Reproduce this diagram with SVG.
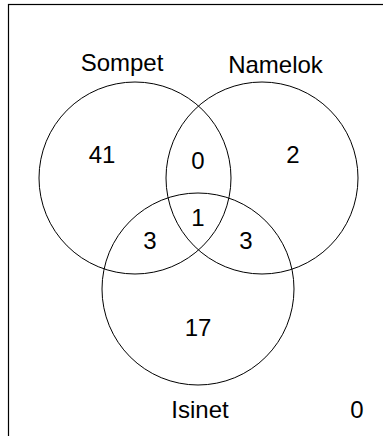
<svg xmlns="http://www.w3.org/2000/svg" width="383" height="436" viewBox="0 0 383 436">
  <style>
    .set { fill: none; stroke: #000; stroke-width: 1; }
    .lbl { font-family: "Liberation Sans", Arial, sans-serif; font-size: 24px; fill: #000; text-anchor: middle; }
  </style>
  <rect width="383" height="436" fill="#fff"/>
  <!-- plot frame (extends past the canvas on right and bottom) -->
  <rect x="8.5" y="4.5" width="400" height="450" fill="none" stroke="#000" stroke-width="1.2"/>

  <g id="sompet">
    <circle class="set" cx="135" cy="178" r="96"/>
    <text class="lbl" x="122" y="71">Sompet</text>
  </g>
  <g id="namelok">
    <circle class="set" cx="262" cy="178" r="96"/>
    <text class="lbl" x="275.5" y="73">Namelok</text>
  </g>
  <g id="isinet">
    <circle class="set" cx="198" cy="289" r="96"/>
    <text class="lbl" x="200" y="418">Isinet</text>
  </g>

  <!-- region counts -->
  <g id="counts">
    <text class="lbl" x="102" y="163">41</text>
    <text class="lbl" x="293" y="163">2</text>
    <text class="lbl" x="198" y="169">0</text>
    <text class="lbl" x="198" y="226">1</text>
    <text class="lbl" x="150" y="249">3</text>
    <text class="lbl" x="246" y="249">3</text>
    <text class="lbl" x="198" y="336">17</text>
    <text class="lbl" x="357" y="418">0</text>
  </g>
  <g id="connectors"/>
</svg>
